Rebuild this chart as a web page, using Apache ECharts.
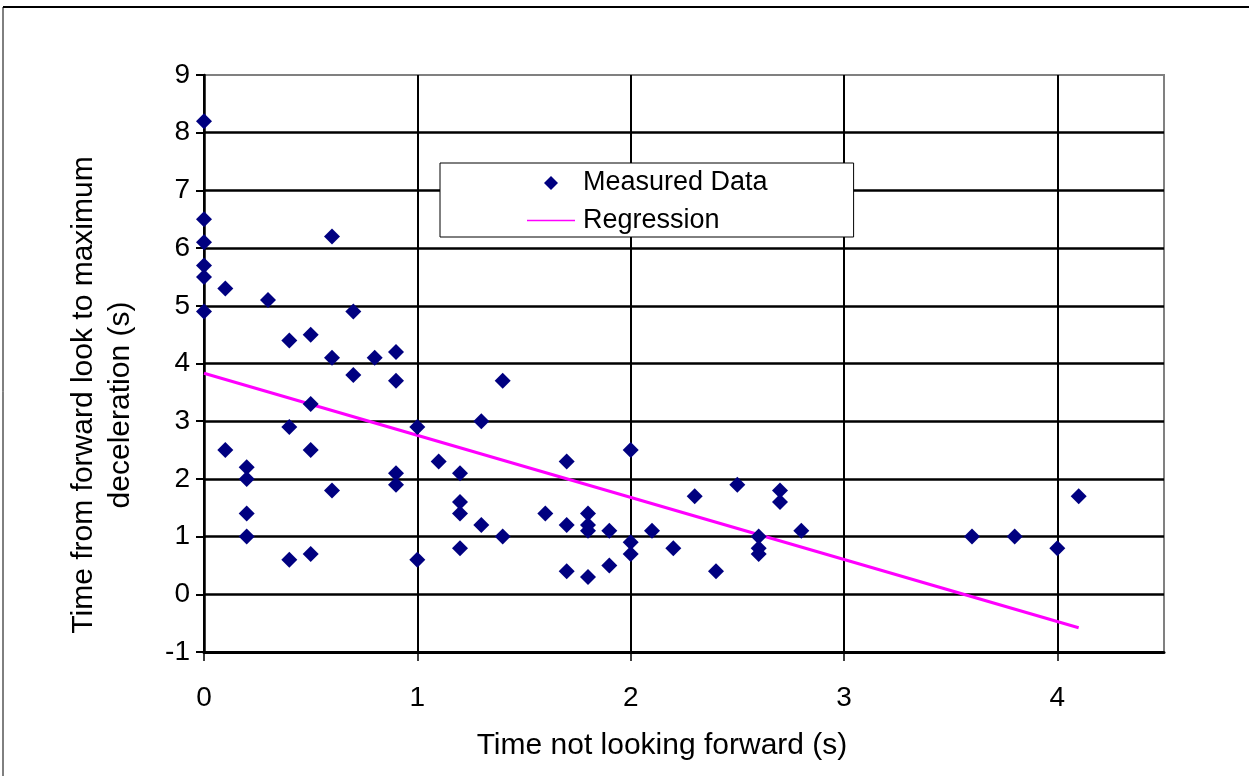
<!DOCTYPE html>
<html>
<head>
<meta charset="utf-8">
<script src="https://cdn.jsdelivr.net/npm/echarts@6/dist/echarts.min.js"></script>
<style>
html,body{margin:0;padding:0;background:#fff;}
#c{width:1249px;height:776px;}
</style>
</head>
<body>
<div id="c"></div>
<script>
// Measured data: [time not looking forward (s), time to max deceleration (s)]
const measuredX = [0,0,0,0,0,0, 0.1,0.1, 0.2,0.2,0.2,0.2, 0.3, 0.4,0.4,0.4, 0.5,0.5,0.5,0.5, 0.6,0.6,0.6, 0.7,0.7, 0.8, 0.9,0.9,0.9,0.9, 1.0,1.0, 1.1, 1.2,1.2,1.2,1.2, 1.3,1.3, 1.4,1.4, 1.6, 1.7,1.7,1.7, 1.8,1.8,1.8,1.8, 1.9,1.9, 2.0,2.0,2.0, 2.1, 2.2, 2.3, 2.4, 2.5, 2.6,2.6,2.6, 2.7,2.7, 2.8, 3.6, 3.8, 4.0, 4.1];
const measuredY = [8.2,6.5,6.1,5.7,5.5,4.9, 5.3,2.5, 2.2,2.0,1.4,1.0, 5.1, 4.4,2.9,0.6, 4.5,3.3,2.5,0.7, 6.2,4.1,1.8, 4.9,3.8, 4.1, 4.2,3.7,2.1,1.9, 2.9,0.6, 2.3, 2.1,1.6,1.4,0.8, 3.0,1.2, 3.7,1.0, 1.4, 2.3,1.2,0.4, 1.4,1.2,1.1,0.3, 1.1,0.5, 2.5,0.9,0.7, 1.1, 0.8, 1.7, 0.4, 1.9, 1.0,0.8,0.7, 1.8,1.6, 1.1, 1.0, 1.0, 0.8, 1.7];
// Regression line endpoints
const regressionX = [0, 4.1];
const regressionY = [3.83, -0.58];
const xTicks = [0, 1, 2, 3, 4];
const yTicks = [-1, 0, 1, 2, 3, 4, 5, 6, 7, 8, 9];
const xTitle = 'Time not looking forward (s)';
const yTitleLines = ['Time from forward look to maximum', 'deceleration (s)'];

const font = '"Liberation Sans", Arial, sans-serif';
const measured = measuredX.map((x, i) => [x, measuredY[i]]);
const regression = regressionX.map((x, i) => [x, regressionY[i]]);

const chart = echarts.init(document.getElementById('c'), null, {renderer: 'canvas'});
chart.setOption({
  animation: false,
  backgroundColor: '#fff',
  textStyle: {fontFamily: font},
  graphic: [
    {type: 'line', shape: {x1: 3, y1: 7, x2: 1249, y2: 7}, style: {stroke: '#000', lineWidth: 2}, silent: true},
    {type: 'line', shape: {x1: 3, y1: 7, x2: 3, y2: 776}, style: {stroke: '#000', lineWidth: 1}, silent: true},
    {type: 'text', x: 662, y: 746, style: {text: xTitle, font: '30px ' + font, fill: '#000', align: 'center', verticalAlign: 'middle'}, silent: true},
    {type: 'text', x: 84, y: 395, rotation: Math.PI / 2, style: {text: yTitleLines[0], font: '30px ' + font, fill: '#000', align: 'center', verticalAlign: 'middle'}, silent: true},
    {type: 'text', x: 121, y: 405, rotation: Math.PI / 2, style: {text: yTitleLines[1], font: '30px ' + font, fill: '#000', align: 'center', verticalAlign: 'middle'}, silent: true}
  ],
  grid: {left: 204, top: 75, right: 85, bottom: 124, show: true, borderColor: '#808080', borderWidth: 2, backgroundColor: 'transparent'},
  legend: {
    left: 440, top: 163,
    orient: 'vertical',
    backgroundColor: '#fff',
    borderColor: '#000', borderWidth: 1,
    padding: [6, 86, 3, 87],
    itemWidth: 48, itemHeight: 28, itemGap: 10,
    align: 'left',
    textStyle: {fontFamily: font, fontSize: 27, color: '#000', padding: [0, 0, 0, 3]},
    data: [
      {name: 'Measured Data', icon: 'path://M-2,-2 L-2,-2 M2,2 L2,2 M0,-1 L1,0 L0,1 L-1,0 Z', itemStyle: {color: '#000080'}},
      {name: 'Regression', icon: 'path://M0,0 L48,0 L48,1.6 L0,1.6 Z', itemStyle: {color: '#FF00FF'}}
    ]
  },
  xAxis: {
    type: 'value', min: 0, max: 4.5, interval: 1,
    axisLine: {onZero: false, lineStyle: {color: '#000', width: 3}},
    axisTick: {show: true, inside: false, length: 9, lineStyle: {color: '#000', width: 1.5}},
    axisLabel: {fontFamily: font, fontSize: 28, color: '#000', margin: 32, showMaxLabel: false,
      formatter: v => (xTicks.indexOf(v) >= 0 ? String(v) : '')},
    splitLine: {show: true, showMaxLine: false, lineStyle: {color: '#000', width: 2}}
  },
  yAxis: {
    type: 'value', min: -1, max: 9, interval: 1,
    axisLine: {onZero: false, lineStyle: {color: '#000', width: 2.5}},
    axisTick: {show: true, length: 8, lineStyle: {color: '#000', width: 2}},
    axisLabel: {fontFamily: font, fontSize: 28, color: '#000', margin: 14,
      formatter: v => (yTicks.indexOf(v) >= 0 ? String(v) : '')},
    splitLine: {show: true, showMaxLine: false, lineStyle: {color: '#000', width: 2.5}}
  },
  series: [
    {
      name: 'Regression', type: 'line', data: regression,
      showSymbol: false, symbol: 'none',
      lineStyle: {color: '#FF00FF', width: 3},
      itemStyle: {color: '#FF00FF'}, z: 3
    },
    {
      name: 'Measured Data', type: 'scatter', data: measured,
      symbol: 'diamond', symbolSize: 16,
      itemStyle: {color: '#000080', opacity: 1}, z: 4
    }
  ]
});
</script>
</body>
</html>
